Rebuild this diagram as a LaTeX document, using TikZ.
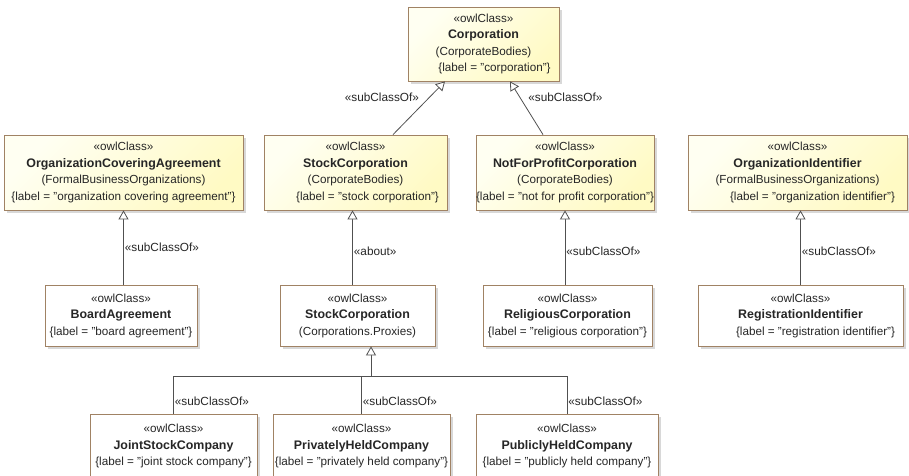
\documentclass[tikz,border=0pt]{standalone}
\usepackage{fontspec}
\setmainfont{Liberation Sans}
\usepackage{tikz}
\usetikzlibrary{arrows.meta, positioning, shadows}

\definecolor{owlborder}{RGB}{160,130,100}
\definecolor{owlpale}{RGB}{255,255,242}
\definecolor{owlcream}{RGB}{255,250,196}
\definecolor{linegrey}{RGB}{80,80,80}

% class name inside a box
\newcommand{\owlname}[1]{{\fontsize{12.4}{16.5}\selectfont\bfseries #1}}

\tikzset{
    owlbox/.style={draw=owlborder, line width=0.8pt, align=center, inner sep=0pt,
        font=\fontsize{11.7}{16.5}\selectfont, text=black!85,
        drop shadow={shadow xshift=3pt, shadow yshift=-3pt, fill=black!30}},
    owltop/.style={owlbox, top color=owlpale, bottom color=owlcream, shading angle=45},
    owlplain/.style={owlbox, fill=white},
    subof/.style={draw=linegrey, line width=0.8pt, -{Triangle[open, length=9pt, width=10pt, fill=white]}},
    busline/.style={draw=linegrey, line width=0.8pt},
    tag/.style={font=\fontsize{11.8}{13}\selectfont, text=black!85, inner sep=1pt}
}

\begin{document}
\begin{tikzpicture}[x=1pt, y=-1pt]
            \useasboundingbox (0,0) rectangle (909,475);

            % Top class
            \node[owltop, minimum width=151, minimum height=74] (corp) at (483.5,44)
                {«owlClass»\\ \owlname{Corporation}\\ (CorporateBodies)\\ \hspace*{22pt}\{label = "corporation"\}};

            % Second row
            \node[owltop, minimum width=239, minimum height=75] (oca) at (123.5,172.5)
                {«owlClass»\\ \owlname{OrganizationCoveringAgreement}\\ (FormalBusinessOrganizations)\\ \{label = "organization covering agreement"\}};
            \node[owltop, minimum width=183, minimum height=75] (stock) at (355.5,172.5)
                {«owlClass»\\ \owlname{StockCorporation}\\ (CorporateBodies)\\ \hspace*{24pt}\{label = "stock corporation"\}};
            \node[owltop, minimum width=176, minimum height=75] (nfp) at (565,172.5)
                {«owlClass»\\ \owlname{NotForProfitCorporation}\\ (CorporateBodies)\\ \{label = "not for profit corporation"\}};
            \node[owltop, minimum width=219, minimum height=75] (oid) at (797.5,172.5)
                {«owlClass»\\ \owlname{OrganizationIdentifier}\\ (FormalBusinessOrganizations)\\ \hspace*{30pt}\{label = "organization identifier"\}};

            % Third row
            \node[owlplain, minimum width=152, minimum height=61] (board) at (121,315.5)
                {«owlClass»\\ \owlname{BoardAgreement}\\ \{label = "board agreement"\}};
            \node[owlplain, minimum width=155, minimum height=61] (stockp) at (357.5,315.5)
                {«owlClass»\\ \owlname{StockCorporation}\\ (Corporations.Proxies)};
            \node[owlplain, minimum width=169, minimum height=61] (relig) at (567.5,315.5)
                {«owlClass»\\ \owlname{ReligiousCorporation}\\ \{label = "religious corporation"\}};
            \node[owlplain, minimum width=205, minimum height=61] (regid) at (800.5,315.5)
                {«owlClass»\\ \owlname{RegistrationIdentifier}\\ \hspace*{30pt}\{label = "registration identifier"\}};

            % Bottom row
            \node[owlplain, minimum width=167, minimum height=64] (joint) at (173.5,446)
                {«owlClass»\\ \owlname{JointStockCompany}\\ \{label = "joint stock company"\}};
            \node[owlplain, minimum width=177, minimum height=64] (priv) at (361.5,446)
                {«owlClass»\\ \owlname{PrivatelyHeldCompany}\\ \{label = "privately held company"\}};
            \node[owlplain, minimum width=182, minimum height=64] (publ) at (567,446)
                {«owlClass»\\ \owlname{PubliclyHeldCompany}\\ \{label = "publicly held company"\}};

            % Generalisations to Corporation
            \draw[subof] ([xshift=37.5]stock.north) -- node[tag, pos=0.7, left=9pt] {«subClassOf»} ([xshift=-38.5]corp.south);
            \draw[subof] ([xshift=-22]nfp.north) -- node[tag, pos=0.7, right=7pt] {«subClassOf»} ([xshift=26.5]corp.south);

            % Vertical links
            \draw[subof] (board.north -| oca.south) -- node[tag, right] {«subClassOf»} (oca.south);
            \draw[subof] ([xshift=-5]stockp.north) -- node[tag, right, pos=0.45] {«about»} ([xshift=-5]stockp.north |- stock.south);
            \draw[subof] (relig.north -| nfp.south) -- node[tag, right, pos=0.45] {«subClassOf»} (nfp.south);
            \draw[subof] (regid.north) -- node[tag, right, pos=0.45] {«subClassOf»} (regid.north |- oid.south);

            % Bus to StockCorporation (Proxies)
            \coordinate (bus) at (371,376);
            \draw[subof] (bus) -- (stockp.south -| bus);
            \draw[busline] (joint.north |- bus) -- (publ.north |- bus);
            \draw[busline] (joint.north) -- node[tag, right, pos=0.34] {«subClassOf»} (joint.north |- bus);
            \draw[busline] (priv.north) -- node[tag, right, pos=0.34] {«subClassOf»} (priv.north |- bus);
            \draw[busline] (publ.north) -- node[tag, right, pos=0.34] {«subClassOf»} (publ.north |- bus);
\end{tikzpicture}
\end{document}
